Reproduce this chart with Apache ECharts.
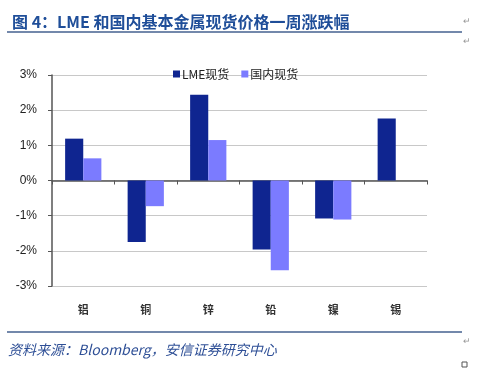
<!DOCTYPE html>
<html>
<head>
<meta charset="utf-8">
<script src="https://cdn.jsdelivr.net/npm/echarts@6/dist/echarts.min.js"></script>
<style>html,body{margin:0;padding:0;background:#fff;}#c{width:500px;height:373px;}</style>
</head>
<body>
<div id="c"></div>
<script>
var categories = ['铝', '铜', '锌', '铅', '镍', '锡'];
var lmeSpot = [1.19, -1.75, 2.44, -1.96, -1.08, 1.76];
var domesticSpot = [0.63, -0.73, 1.15, -2.55, -1.11, null];
var seriesNames = ['LME现货', '国内现货'];
var yTicks = [-3, -2, -1, 0, 1, 2, 3];

var chart = echarts.init(document.getElementById('c'), null, {renderer: 'canvas'});
var cjk = '"Noto Sans CJK SC", "Liberation Sans", sans-serif';
chart.setOption({
  animation: false,
  backgroundColor: '#fff',
  title: {
    text: '图 4：LME 和国内基本金属现货价格一周涨跌幅',
    left: 7, top: 9,
    textStyle: {color: '#1F4E99', fontSize: 16, fontWeight: 'bold', fontFamily: cjk}
  },
  graphic: [
    {type: 'line', shape: {x1: 7, y1: 32, x2: 462, y2: 32}, style: {stroke: '#44608F', lineWidth: 1.5}},
    {type: 'line', shape: {x1: 7, y1: 332, x2: 462, y2: 332}, style: {stroke: '#44608F', lineWidth: 1.5}},
    {type: 'text', left: 8, top: 343, style: {text: '资料来源：Bloomberg，安信证券研究中心', fill: '#2E4F96', fontSize: 14, fontStyle: 'italic', fontFamily: cjk}},
    {type: 'text', left: 463, top: 17, style: {text: '↵', fill: '#999', fontSize: 9}},
    {type: 'text', left: 463, top: 37, style: {text: '↵', fill: '#999', fontSize: 9}},
    {type: 'text', left: 463, top: 337, style: {text: '↵', fill: '#999', fontSize: 9}},
    {type: 'rect', shape: {x: 462, y: 362, width: 5, height: 5}, style: {fill: 'none', stroke: '#555', lineWidth: 1}}
  ],
  legend: {
    data: seriesNames,
    top: 63, left: 168,
    itemWidth: 7, itemHeight: 7, itemGap: 12,
    icon: 'rect',
    textStyle: {fontSize: 12, color: '#222', fontFamily: cjk, padding: [0, 0, 0, -3]}
  },
  grid: {left: 52, right: 73, top: 75, bottom: 87, containLabel: false},
  xAxis: {
    type: 'category',
    data: categories,
    axisLine: {onZero: true, lineStyle: {color: '#555', width: 1.5}},
    axisTick: {show: true, length: 4, lineStyle: {color: '#555'}},
    axisLabel: {
      fontSize: 11, color: '#333', fontFamily: cjk, fontWeight: 'bold',
      margin: 18,
      formatter: function (v) { return v; }
    },
    position: 'bottom'
  },
  yAxis: {
    type: 'value', min: -3, max: 3, interval: 1,
    axisLine: {show: true, lineStyle: {color: '#555', width: 1.5}},
    axisTick: {show: true, length: 4, inside: false, lineStyle: {color: '#555'}},
    splitLine: {lineStyle: {color: '#c8c8c8', width: 1}},
    axisLabel: {fontSize: 12, color: '#222', fontFamily: '"Liberation Sans", sans-serif', margin: 15, formatter: function (v) { return v + '%'; }}
  },
  series: [
    {name: seriesNames[0], type: 'bar', data: lmeSpot, barGap: '0%', barCategoryGap: '42%', itemStyle: {color: '#0F2590'}},
    {name: seriesNames[1], type: 'bar', data: domesticSpot, itemStyle: {color: '#7B7BFF'}}
  ]
});
</script>
</body>
</html>
